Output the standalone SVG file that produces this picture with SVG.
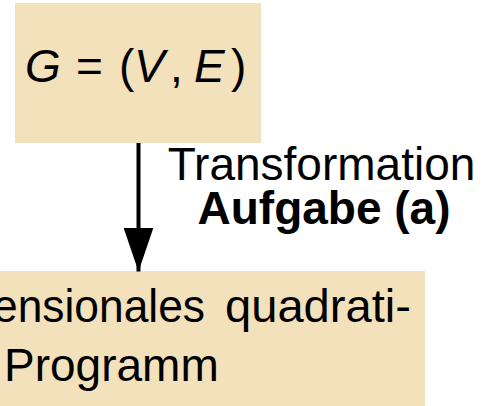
<svg xmlns="http://www.w3.org/2000/svg" width="486" height="406" viewBox="0 0 486 406">
  <style>
    .box { fill: #f3e1bb; stroke: none; }
    .t { font-family: "Liberation Sans", Arial, Helvetica, sans-serif; font-size: 46px; fill: #000; }
    .it { font-style: italic; }
    .b { font-weight: bold; }
    .edge { stroke: #000; stroke-width: 4; fill: none; }
  </style>
  <defs>
    <marker id="arrow" markerUnits="userSpaceOnUse" markerWidth="44" markerHeight="30" refX="44" refY="15" orient="auto" viewBox="0 0 44 30">
      <path d="M0,0 L44,15 L0,30 Z" fill="#000"/>
    </marker>
  </defs>

  <!-- source node: the graph -->
  <g id="graph">
    <rect class="box" x="15" y="3" width="246" height="140"/>
    <text class="t" y="82">
      <tspan class="it" x="25">G</tspan>
      <tspan x="76">=</tspan>
      <tspan x="119">(</tspan>
      <tspan class="it" x="134">V</tspan>
      <tspan x="170">,</tspan>
      <tspan class="it" x="194">E</tspan>
      <tspan x="231">)</tspan>
    </text>
  </g>

  <!-- target node: the quadratic program -->
  <g id="program">
    <rect class="box" x="0" y="271" width="425" height="135"/>
    <text class="t" x="-7" y="322" textLength="212" lengthAdjust="spacingAndGlyphs">ensionales</text>
    <text class="t" x="225" y="322" textLength="186" lengthAdjust="spacingAndGlyphs">quadrati-</text>
    <text class="t" x="4" y="381">Programm</text>
  </g>

  <!-- transformation connector -->
  <g id="connectors">
    <line class="edge" x1="138.5" y1="143" x2="138.5" y2="271.5" marker-end="url(#arrow)"/>
    <text class="t" x="321.5" y="180" text-anchor="middle">Transformation</text>
    <text class="t b" x="324" y="224" text-anchor="middle">Aufgabe (a)</text>
  </g>
</svg>
